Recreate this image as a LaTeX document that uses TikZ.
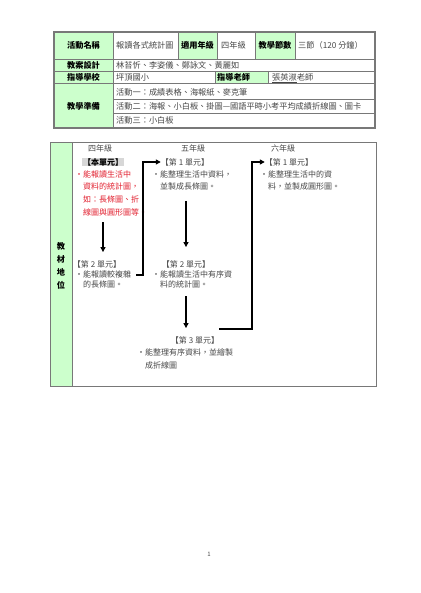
\documentclass[tikz,border=0pt]{standalone}
\usepackage{fontspec}
\setmainfont{Noto Sans CJK TC}
\usetikzlibrary{arrows.meta}
\definecolor{tbgreen}{RGB}{204,255,204}
\definecolor{tbline}{RGB}{120,120,120}
\definecolor{tbtext}{RGB}{70,70,70}
\definecolor{tbred}{RGB}{225,30,45}
\definecolor{tbshade}{RGB}{215,215,215}

\begin{document}
\begin{tikzpicture}[x=1pt,y=-1pt,
  lab/.style={font=\fontsize{8.2}{10}\selectfont\bfseries,inner sep=0},
  val/.style={font=\fontsize{8.2}{10}\selectfont,text=tbtext,inner sep=0,anchor=west},
  unit/.style={font=\fontsize{8}{10}\selectfont,text=tbtext,inner sep=0},
  desc/.style={font=\fontsize{8}{12.7}\selectfont,text=tbtext,inner sep=0,align=left,anchor=north west},
  desctight/.style={desc,font=\fontsize{8}{9.5}\selectfont},
  flow/.style={line width=1.2pt,-{Triangle[length=5pt,width=5pt]}}]
  \useasboundingbox (0,0) rectangle (420,593);

  % top table
  \fill[tbgreen] (54,32) rectangle (113,128);
  \fill[tbgreen] (178,32) rectangle (217,59);
  \fill[tbgreen] (255,32) rectangle (295,59);
  \fill[tbgreen] (215,71) rectangle (268,83);
  \draw[tbline,line width=0.5pt] (54,59) -- (375,59) (54,71) -- (375,71) (54,83) -- (375,83)
    (113,99.5) -- (375,99.5) (113,113) -- (375,113)
    (113,32) -- (113,128) (178,32) -- (178,59) (217,32) -- (217,59)
    (255,32) -- (255,59) (295,32) -- (295,59) (215,71) -- (215,83) (268,71) -- (268,83);
  \draw[tbline,line width=1.2pt] (54,32) rectangle (375,128);

  \node[lab] (actname) at (83.5,45.5) {活動名稱};
  \node[val] (actval) at (116,45.5) {報讀各式統計圖};
  \node[lab] (gradename) at (197.5,45.5) {適用年級};
  \node[val] (gradeval) at (221,45.5) {四年級};
  \node[lab] (periodname) at (275,45.5) {教學節數};
  \node[val] (periodval) at (298,45.5) {三節（120 分鐘）};
  \node[lab] (planname) at (83.5,65) {教案設計};
  \node[val] (planval) at (116,65) {林苔忻、李姿儀、鄭詠文、黃麗如};
  \node[lab] (schoolname) at (83.5,77) {指導學校};
  \node[val] (schoolval) at (116,77) {坪頂國小};
  \node[lab,anchor=west] (teachername) at (217,77) {指導老師};
  \node[val] (teacherval) at (272,77) {張英淑老師};
  \draw[tbtext,line width=0.4pt] ([yshift=-0.8pt]teacherval.south west) -- ++(24.6,0);
  \node[lab] (prepname) at (83.5,106) {教學準備};
  \node[val] (prep1) at (116,92) {活動一：成績表格、海報紙、麥克筆};
  \node[val] (prep2) at (116,106.5) {活動二：海報、小白板、掛圖—國語平時小考平均成績折線圖、圖卡};
  \node[val] (prep3) at (116,120.5) {活動三：小白板};

  % lower box
  \fill[tbgreen] (50,143) rectangle (72,386);
  \draw[tbline,line width=0.5pt] (72,143) -- (72,386);
  \draw[tbline,line width=1pt] (50,143) rectangle (376,386);
  \node[lab,align=center,font=\fontsize{8.2}{13}\selectfont\bfseries] (rolename) at (61,266) {教\\材\\地\\位};

  \node[unit] (g4head) at (100,148) {四年級};
  \node[unit] (g5head) at (193,148) {五年級};
  \node[unit] (g6head) at (283,148) {六年級};

  \node[unit,font=\fontsize{8}{10}\selectfont\bfseries,text=black,fill=tbshade,inner sep=0.6pt] (g4u1) at (103,162) {【本單元】};
  \node[desc,text=tbred] (g4u1txt) at (83,170.3) {\llap{・}能報讀生活中\\資料的統計圖，\\如：長條圖、折\\線圖與圓形圖等。};
  \node[unit] (g4u2) at (97,264) {【第 2 單元】};
  \node[desctight] (g4u2txt) at (83,271) {\llap{・}能報讀較複雜\\的長條圖。};

  \node[unit] (g5u1) at (185,162) {【第 1 單元】};
  \node[desc] (g5u1txt) at (160,170.3) {\llap{・}能整理生活中資料，\\並製成長條圖。};
  \node[unit] (g5u2) at (186,264) {【第 2 單元】};
  \node[desctight] (g5u2txt) at (160,271) {\llap{・}能報讀生活中有序資\\料的統計圖。};
  \node[unit] (g5u3) at (195,340) {【第 3 單元】};
  \node[desc] (g5u3txt) at (145,348.3) {\llap{・}能整理有序資料，並繪製\\成折線圖};

  \node[unit] (g6u1) at (289,162) {【第 1 單元】};
  \node[desc] (g6u1txt) at (268,170.3) {\llap{・}能整理生活中的資\\料，並製成圓形圖。};

  \coordinate (j45) at (143,162);
  \coordinate (j56) at (252,162);
  \draw[flow,shorten <=6pt,shorten >=8pt] (g4u1txt.south -| g4u1.south) -- (g4u2.north -| g4u1.south);
  \draw[flow,shorten <=10pt,shorten >=13pt] (g5u1txt.south -| g5u2.north) -- (g5u2.north);
  \draw[flow,shorten <=8pt,shorten >=8pt] (g5u2txt.south -| g5u2.south) -- (g5u3.north -| g5u2.south);
  \draw[flow] ([xshift=5pt,yshift=-4pt]g4u2txt.north east) -| (j45) -- (g5u1.west);
  \draw[flow] ([yshift=11pt]g5u3.east) -| (j56) -- (g6u1.west);

  \node[font=\fontsize{6}{7}\selectfont,text=tbtext] (pagenum) at (209,554) {1};
\end{tikzpicture}
\end{document}
